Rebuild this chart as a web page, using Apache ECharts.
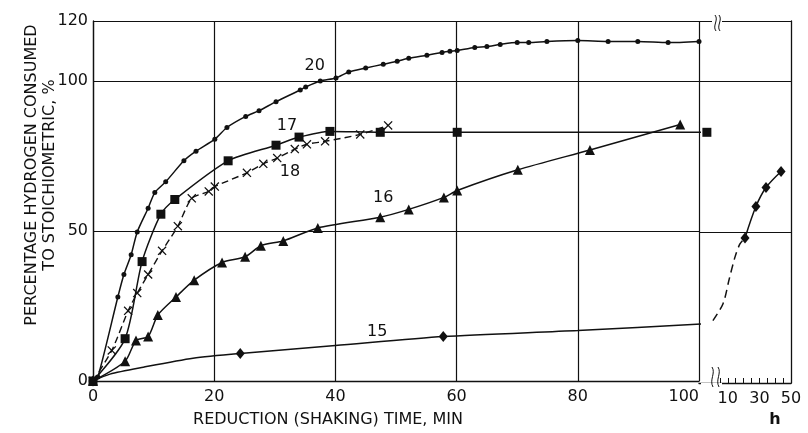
<!DOCTYPE html>
<html>
<head>
<meta charset="utf-8">
<script src="https://cdn.jsdelivr.net/npm/echarts@6/dist/echarts.min.js"></script>
<style>
  html, body { margin: 0; background: #fff; }
  #chart { width: 808px; height: 433px; }
</style>
</head>
<body>
<div id="chart"></div>
<script>
// [minutes, % of stoichiometric]
var run20 = [[0,0],[0.8,1.3],[4.1,28.0],[5.1,35.5],[6.3,42.1],[7.3,49.7],[9.1,57.6],[10.2,62.8],[12.0,66.4],
  [15.0,73.4],[17.0,76.6],[20.1,80.6],[22.1,84.5],[25.2,88.2],[27.4,90.1],[30.2,93.1],[34.2,97.0],[35.1,98.0],
  [37.5,100.0],[40.1,101.0],[42.2,103.0],[45.0,104.3],[47.9,105.6],[50.2,106.6],[52.1,107.6],[55.1,108.6],
  [57.6,109.5],[58.9,109.9],[60.1,110.2],[63.0,111.2],[65.0,111.5],[67.2,112.2],[70.0,112.8],[71.9,112.8],
  [74.9,113.2],[80.0,113.5],[85.0,113.2],[89.9,113.2],[94.9,112.8],[100.0,113.2]];
var run17 = [[0,0],[5.3,14.1],[8.1,39.8],[11.2,55.6],[13.5,60.5],[22.3,73.4],[30.2,78.6],[34.0,81.3],
  [39.1,83.2],[47.4,82.9],[60.1,82.9],[101.3,82.9]];
var run18 = [[0,0],[3.1,10.2],[5.8,23.4],[7.3,29.3],[9.1,35.5],[11.4,43.4],[14.0,51.6],[16.3,60.9],[19.1,63.2],
  [20.1,64.8],[25.4,69.4],[28.1,72.4],[30.4,74.3],[33.3,77.3],[35.3,78.9],[38.3,79.9],[44.1,82.2],[48.7,85.2]];
var run16 = [[0,0],[5.3,6.6],[7.1,13.5],[9.1,14.8],[10.7,22.0],[13.7,28.0],[16.7,33.6],[21.3,39.5],[25.1,41.4],
  [27.7,45.1],[31.4,46.7],[37.1,51.0],[47.4,54.6],[52.1,57.2],[57.9,61.2],[60.1,63.5],[70.1,70.4],[82.0,77.0],
  [96.9,85.5]];
var curve15 = [[0,0],[2.8,2.3],[8.3,4.6],[16.5,7.6],[24.3,9.2],[40,11.8],[57.8,14.8],[80,16.8],[101.3,19.1]];
var marks15 = [[0,0],[24.3,9.2],[57.8,14.8]];
// run 15 continued, [hours, %]
var hoursDash15 = [[0.6,20.7],[7.0,26.3],[10.8,34.2],[14.6,41.8],[17.7,46.1],[20.9,48.1]];
var hours15 = [[20.9,48.1],[27.8,58.5],[34.2,64.8],[43.7,70.1]];

var minTicks = [0, 20, 40, 60, 80, 100];
var hourLabels = [10, 30, 50];
var hourTicks = [5, 10, 15, 20, 25, 30, 35, 40, 45];
var pctTicks = [0, 50, 100, 120];

// where the run numbers are written, in data units
var runLabels = { '20': [36.6, 104.9], '17': [32, 84.9], '18': [32.5, 69.7], '16': [47.9, 60.9], '15': [46.9, 16.4] };

var ink = '#111';
var font = 'DejaVu Sans';

function tag(name) {
  return {
    symbol: 'circle', symbolSize: 0, silent: true,
    label: { show: true, position: 'inside', formatter: name, color: ink, fontSize: 16, fontFamily: font },
    data: [{ coord: runLabels[name] }]
  };
}

function run(name, data, symbol, size, extra) {
  var s = {
    name: name, type: 'line', data: data, xAxisIndex: 0, yAxisIndex: 0,
    smooth: 0.25, clip: false,
    symbol: symbol, symbolSize: size, symbolKeepAspect: true,
    lineStyle: { color: ink, width: 1.5 },
    itemStyle: { color: ink, opacity: 1 },
    markPoint: tag(name)
  };
  for (var k in extra) s[k] = extra[k];
  return s;
}

var cross = 'path://M0,1L1,0L5,4L9,0L10,1L6,5L10,9L9,10L5,6L1,10L0,9L4,5Z';

var option = {
  backgroundColor: '#fff',
  animation: false,
  grid: [
    { left: 93, top: 21, width: 606, height: 366 },
    { left: 699, top: 21, width: 92, height: 366 }
  ],
  xAxis: [
    {
      gridIndex: 0, type: 'value', min: 0, max: 100, interval: 20,
      axisLine: { lineStyle: { color: ink, width: 1.3 } },
      axisTick: { show: false },
      axisLabel: { color: ink, fontSize: 16, fontFamily: font, margin: 8, alignMaxLabel: 'right',
        customValues: minTicks },
      splitLine: { show: true, lineStyle: { color: ink, width: 1.2 } },
      name: 'REDUCTION (SHAKING) TIME, MIN', nameLocation: 'middle', nameGap: 31, nameMoveOverlap: false,
      nameTextStyle: { color: ink, fontSize: 16, fontFamily: font, padding: [0, 136, 0, 0] }
    },
    {
      gridIndex: 1, type: 'value', min: -8.2, max: 50,
      axisLine: { lineStyle: { color: ink, width: 1.3 } },
      axisTick: { show: true, inside: true, length: 5, customValues: hourTicks, lineStyle: { color: ink } },
      axisLabel: { color: ink, fontSize: 16, fontFamily: font, margin: 8, customValues: hourLabels },
      splitLine: { show: false },
      name: 'h', nameLocation: 'middle', nameGap: 29, nameMoveOverlap: false,
      nameTextStyle: { color: ink, fontSize: 16, fontFamily: font, fontWeight: 'bold', padding: [0, 0, 0, 60] }
    }
  ],
  yAxis: [
    {
      gridIndex: 0, type: 'value', min: 0, max: 120, interval: 50,
      axisLine: { show: true, onZero: false, lineStyle: { color: ink, width: 1.3 } },
      axisTick: { show: false },
      axisLabel: { color: ink, fontSize: 16, fontFamily: font, margin: 5, customValues: pctTicks },
      splitLine: { show: true, lineStyle: { color: ink, width: 1.2 } },
      name: 'PERCENTAGE HYDROGEN CONSUMED\nTO STOICHIOMETRIC, %', nameLocation: 'middle', nameGap: 34,
      nameMoveOverlap: false,
      nameTextStyle: { color: ink, fontSize: 16, fontFamily: font, lineHeight: 18, padding: [0, 0, 0, 52] }
    },
    {
      gridIndex: 1, type: 'value', min: 0, max: 120, interval: 50, position: 'right',
      axisLine: { show: true, onZero: false, lineStyle: { color: ink, width: 1.3 } },
      axisTick: { show: false },
      axisLabel: { show: false },
      splitLine: { show: true, lineStyle: { color: ink, width: 1.2 } }
    }
  ],
  series: [
    run('20', run20, 'circle', 5),
    run('17', run17, 'rect', 9),
    run('18', run18, cross, 9, { lineStyle: { color: ink, width: 1.4, type: [7, 4] } }),
    run('16', run16, 'triangle', 10),
    run('15', curve15, 'none', 0),
    {
      type: 'scatter', data: marks15, xAxisIndex: 0, yAxisIndex: 0,
      symbol: 'diamond', symbolSize: [9, 11], itemStyle: { color: ink, opacity: 1 }
    },
    {
      type: 'line', data: hoursDash15, xAxisIndex: 1, yAxisIndex: 1,
      smooth: 0.3, showSymbol: false, clip: false,
      lineStyle: { color: ink, width: 1.5, type: [8, 5] }
    },
    {
      type: 'line', data: hours15, xAxisIndex: 1, yAxisIndex: 1,
      smooth: 0.3, symbol: 'diamond', symbolSize: [9, 11],
      lineStyle: { color: ink, width: 1.5 }, itemStyle: { color: ink, opacity: 1 }
    }
  ],
  graphic: [
    // axis break marks
    { type: 'rect', z: 100, shape: { x: 712, y: 17, width: 10, height: 8 }, style: { fill: '#fff' } },
    { type: 'rect', z: 100, shape: { x: 701, y: 383, width: 21, height: 8 }, style: { fill: '#fff' } },
    { type: 'bezierCurve', z: 101, shape: { x1: 715, y1: 15, cpx1: 719, cpy1: 20, cpx2: 712, cpy2: 26, x2: 716, y2: 31 },
      style: { stroke: ink, lineWidth: 1, fill: null } },
    { type: 'bezierCurve', z: 101, shape: { x1: 719, y1: 15, cpx1: 723, cpy1: 20, cpx2: 716, cpy2: 26, x2: 720, y2: 31 },
      style: { stroke: ink, lineWidth: 1, fill: null } },
    { type: 'bezierCurve', z: 101, shape: { x1: 712, y1: 367, cpx1: 716, cpy1: 373, cpx2: 709, cpy2: 380, x2: 713, y2: 387 },
      style: { stroke: ink, lineWidth: 1, fill: null } },
    { type: 'bezierCurve', z: 101, shape: { x1: 718, y1: 367, cpx1: 722, cpy1: 373, cpx2: 715, cpy2: 380, x2: 719, y2: 387 },
      style: { stroke: ink, lineWidth: 1, fill: null } }
  ]
};

echarts.init(document.getElementById('chart')).setOption(option);
</script>
</body>
</html>
